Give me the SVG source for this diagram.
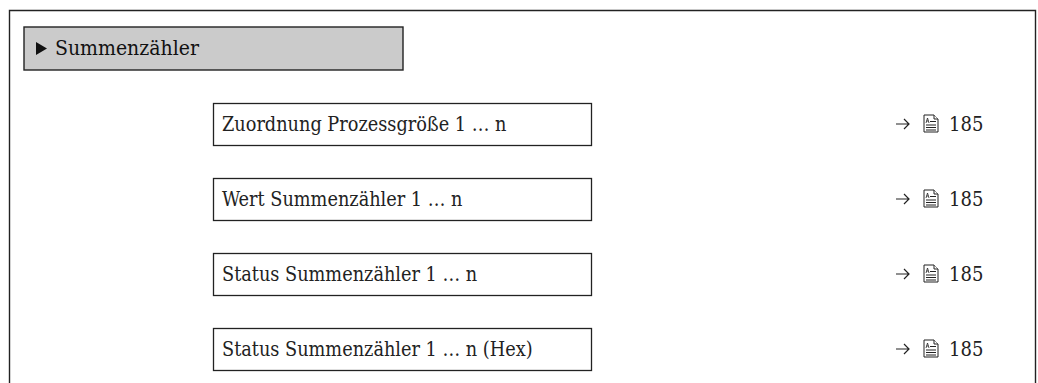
<svg xmlns="http://www.w3.org/2000/svg" width="1038" height="383" viewBox="0 0 1038 383">
<style>
.frame{fill:none;stroke:#222;stroke-width:1.4}
.box{fill:#fff;stroke:#222;stroke-width:1.3}
.hdr{fill:#cbcbcb;stroke:#222;stroke-width:1.4}
.t{font-family:"DejaVu Serif Condensed","DejaVu Serif",serif;font-stretch:condensed;font-size:19.7px;fill:#222}
.h{font-family:"DejaVu Serif Condensed","DejaVu Serif",serif;font-stretch:condensed;font-size:21px;fill:#111}
.ref{font-family:"DejaVu Serif Condensed","DejaVu Serif",serif;font-stretch:condensed;font-size:20px;fill:#222}
.arr{fill:none;stroke:#222;stroke-width:1.2}
.ic{fill:#fff;stroke:#222;stroke-width:1}
</style>
<defs>
<g id="pageref">
<path class="arr" d="M0,0 H13 M8,-5 L13,0 L8,5"/>
<path class="ic" d="M28,-9 H38 L42,-5 V8 H28 Z"/>
<path d="M38,-9 V-5 H42" class="ic"/>
<path d="M30,-1 L31.5,-6 L33,-1 M30.6,-3 H32.4" fill="none" stroke="#222" stroke-width="0.8"/>
<path d="M34,-2.5 H40 M30,1 H40 M30,3.5 H40 M30,6 H40" fill="none" stroke="#222" stroke-width="1"/>
</g>
</defs>
<path class="frame" d="M9.5,383 V10.5 H1035.5 V383"/>
<g id="header">
<rect class="hdr" x="24" y="27" width="379" height="43"/>
<path d="M36,42 L47,48.5 L36,55 Z" fill="#111"/>
<text class="h" x="55" y="55">Summenzähler</text>
</g>
<g id="node1">
<rect class="box" x="213.5" y="103.5" width="378" height="42"/>
<text class="t" x="222" y="131">Zuordnung Prozessgröße 1 … n</text>
<use href="#pageref" x="896" y="124"/>
<text class="ref" x="949" y="131">185</text>
</g>
<g id="node2">
<rect class="box" x="213.5" y="178.5" width="378" height="42"/>
<text class="t" x="222" y="206">Wert Summenzähler 1 … n</text>
<use href="#pageref" x="896" y="199"/>
<text class="ref" x="949" y="206">185</text>
</g>
<g id="node3">
<rect class="box" x="213.5" y="253.5" width="378" height="42"/>
<text class="t" x="222" y="281">Status Summenzähler 1 … n</text>
<use href="#pageref" x="896" y="274"/>
<text class="ref" x="949" y="281">185</text>
</g>
<g id="node4">
<rect class="box" x="213.5" y="328.5" width="378" height="42"/>
<text class="t" x="222" y="356">Status Summenzähler 1 … n (Hex)</text>
<use href="#pageref" x="896" y="349"/>
<text class="ref" x="949" y="356">185</text>
</g>
<g id="connectors"></g>
</svg>
